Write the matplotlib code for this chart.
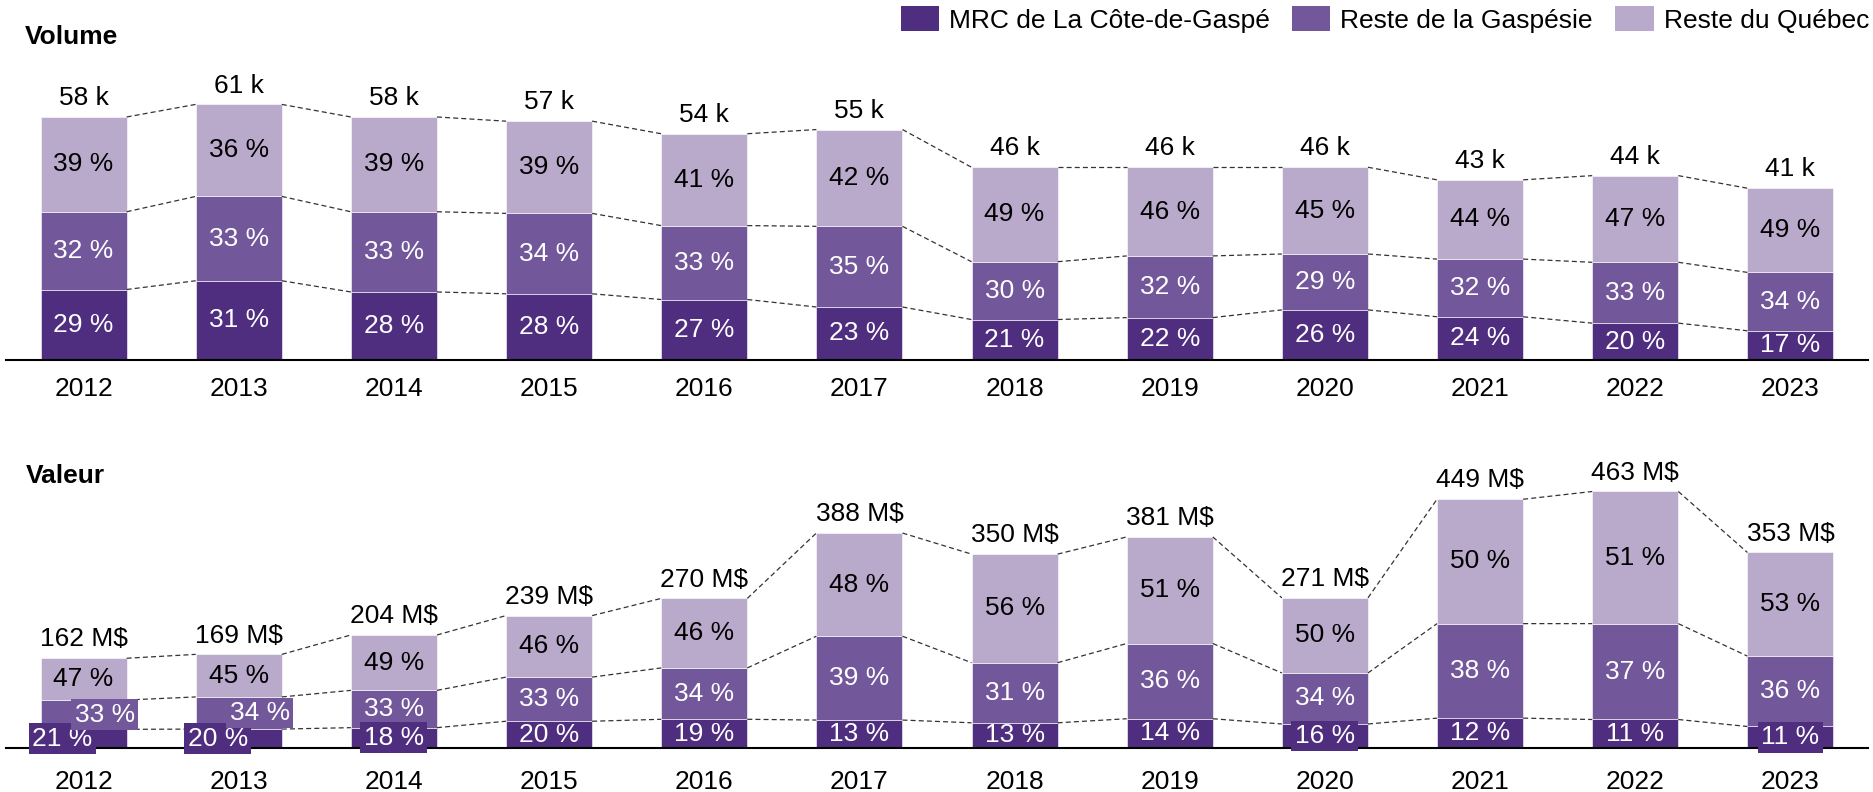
import numpy as np
import matplotlib.pyplot as plt
from matplotlib.patches import Patch

plt.rcParams['font.family'] = ['Liberation Sans', 'DejaVu Sans']

years = [str(y) for y in range(2012, 2024)]
series = ["MRC de La Côte-de-Gaspé", "Reste de la Gaspésie", "Reste du Québec"]
colors = ["#4f2d7f", "#72589a", "#b9aacb"]
text_colors = ["white", "white", "black"]

# volume (milliers) et parts en %
vol_total = [58, 61, 58, 57, 54, 55, 46, 46, 46, 43, 44, 41]
vol_mrc = [29, 31, 28, 28, 27, 23, 21, 22, 26, 24, 20, 17]
vol_gasp = [32, 33, 33, 34, 33, 35, 30, 32, 29, 32, 33, 34]
vol_qc = [39, 36, 39, 39, 41, 42, 49, 46, 45, 44, 47, 49]

# valeur (M$) et parts en %
val_total = [162, 169, 204, 239, 270, 388, 350, 381, 271, 449, 463, 353]
val_mrc = [21, 20, 18, 20, 19, 13, 13, 14, 16, 12, 11, 11]
val_gasp = [33, 34, 33, 33, 34, 39, 31, 36, 34, 38, 37, 36]
val_qc = [47, 45, 49, 46, 46, 48, 56, 51, 50, 50, 51, 53]

W, H = 1873, 792
fig = plt.figure(figsize=(W / 100, H / 100), dpi=100)
FS = 19
bar_w = 0.555


def panel(rect, ylim_top, totals, shares, unit, tick_pad, boxed, shifted):
    ax = fig.add_axes(rect)
    x = np.arange(len(totals))
    totals = np.array(totals, dtype=float)
    shares = np.array(shares, dtype=float)
    parts = shares / shares.sum(axis=0) * totals
    bottom = np.zeros(len(totals))
    levels = []
    for k in range(3):
        ax.bar(x, parts[k], bar_w, bottom=bottom, color=colors[k],
               edgecolor="white", linewidth=0.4)
        for i in range(len(x)):
            xc = x[i]
            if (i, k) in shifted:
                xc += shifted[(i, k)]
            kw = {}
            if (i, k) in boxed:
                kw["bbox"] = dict(boxstyle="square,pad=0.13", fc=colors[k], ec="none")
            ax.text(xc, bottom[i] + parts[k][i] / 2, f"{int(shares[k][i])} %",
                    ha="center", va="center", fontsize=FS, color=text_colors[k], **kw)
        bottom = bottom + parts[k]
        levels.append(bottom.copy())
    # pointillés entre les barres
    for lev in levels:
        for i in range(len(x) - 1):
            ax.plot([x[i] + bar_w / 2, x[i + 1] - bar_w / 2], [lev[i], lev[i + 1]],
                    color="#333333", lw=0.9, ls=(0, (4, 2.5)), zorder=1)
    for i in range(len(x)):
        ax.annotate(f"{int(totals[i])} {unit}", (x[i], totals[i]), xytext=(0, 8.5),
                    textcoords="offset points", ha="center", va="baseline", fontsize=FS)
    ax.set_xlim(-0.5, len(x) - 0.5)
    ax.set_ylim(0, ylim_top)
    ax.set_xticks(x)
    ax.set_xticklabels(years, fontsize=FS)
    ax.tick_params(axis="x", length=0, pad=tick_pad)
    ax.set_yticks([])
    for s in ["top", "right", "left"]:
        ax.spines[s].set_visible(False)
    ax.spines["bottom"].set_linewidth(1.5)
    ax.spines["bottom"].set_color("black")
    return ax


ax_left = 6 / W
ax_width = 1862 / W

panel([ax_left, (H - 360) / H, ax_width, 300 / H], 300 / 4.19,
      vol_total, [vol_mrc, vol_gasp, vol_qc], "k", 12, set(), {})

shift = 21 / 155.2
panel([ax_left, (H - 748) / H, ax_width, 327 / H], 327 / 0.554,
      val_total, [val_mrc, val_gasp, val_qc], "M$", 15.5,
      {(0, 0), (0, 1), (1, 0), (1, 1), (2, 0), (8, 0), (11, 0)},
      {(0, 0): -shift, (0, 1): shift, (1, 0): -shift, (1, 1): shift})

fig.text(25 / W, (H - 44) / H, "Volume", fontsize=FS, fontweight="bold", va="baseline")
fig.text(26 / W, (H - 483) / H, "Valeur", fontsize=FS, fontweight="bold", va="baseline")

handles = [Patch(facecolor=c, edgecolor="none") for c in colors]
fig.legend(handles, series, loc="upper right", bbox_to_anchor=(1869 / W, 1 - 6 / H),
           ncol=3, frameon=False, fontsize=FS, handlelength=1.45, handleheight=1.1,
           handletextpad=0.38, columnspacing=0.85, borderpad=0, borderaxespad=0)

fig.savefig("out.png", dpi=100)
